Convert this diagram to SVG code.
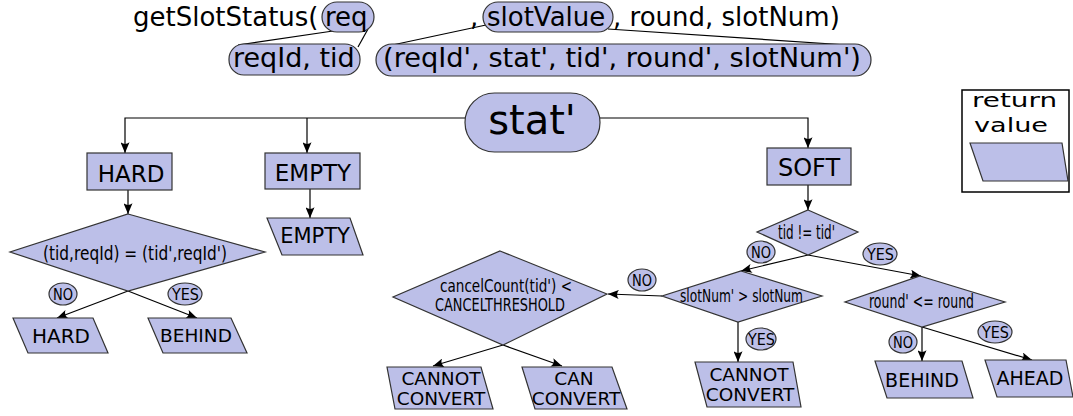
<svg xmlns="http://www.w3.org/2000/svg" width="1073" height="416" viewBox="0 0 1073 416">
  <style>
    .t { font-family: "DejaVu Sans", "Liberation Sans", sans-serif; fill: #000; }
    .c { font-family: "DejaVu Sans", "Liberation Sans", sans-serif; fill: #000; }
    .m { text-anchor: middle; }
    .sh { fill: #bcbfe8; stroke: #333; stroke-width: 1.2; }
    .ln { stroke: #000; stroke-width: 1.2; fill: none; }
    .ar { marker-end: url(#ah); }
  </style>
  <defs>
    <marker id="ah" viewBox="0 0 12 10" refX="12" refY="5" markerWidth="12" markerHeight="9" markerUnits="userSpaceOnUse" orient="auto">
      <path d="M0,0 L12,5 L0,10 Q4,5 0,0 Z" fill="#000"/>
    </marker>
  </defs>

  <!-- signature header -->
  <g id="signature">
    <line class="ln" x1="333" y1="31" x2="238" y2="45"/>
    <line class="ln" x1="368" y1="29" x2="358" y2="47"/>
    <line class="ln" x1="486" y1="25" x2="383" y2="47"/>
    <line class="ln" x1="608" y1="29" x2="862" y2="46"/>
    <rect class="sh" x="322" y="2" width="52" height="30" rx="15"/>
    <rect class="sh" x="483" y="2" width="130" height="30" rx="15"/>
    <rect class="sh" x="229" y="44" width="131" height="31" rx="15"/>
    <rect class="sh" x="376" y="44" width="495" height="32" rx="16"/>
    <text class="t" x="133" y="26" font-size="26">getSlotStatus(</text>
    <text class="t" x="325" y="26" font-size="26">req</text>
    <text class="t" x="470" y="26" font-size="26">,</text>
    <text class="t" x="487" y="26" font-size="26">slotValue</text>
    <text class="t" x="613" y="26" font-size="26">, round, slotNum)</text>
    <text class="t" x="233" y="67" font-size="27">reqId, tid</text>
    <text class="t" x="383" y="67" font-size="27" textLength="478" lengthAdjust="spacingAndGlyphs">(reqId', stat', tid', round', slotNum')</text>
  </g>

  <!-- connectors -->
  <g id="connectors">
    <path class="ln ar" d="M465,118 H125 V153"/>
    <path class="ln ar" d="M307,118 V153"/>
    <path class="ln ar" d="M600,118 H808 V148"/>
    <line class="ln ar" x1="128" y1="190" x2="128" y2="214"/>
    <line class="ln ar" x1="310" y1="189" x2="310" y2="218"/>
    <line class="ln ar" x1="128" y1="291" x2="57" y2="318"/>
    <line class="ln ar" x1="128" y1="291" x2="197" y2="318"/>
    <line class="ln ar" x1="808" y1="185" x2="808" y2="210"/>
    <line class="ln ar" x1="808" y1="255" x2="741" y2="271"/>
    <line class="ln ar" x1="808" y1="255" x2="921" y2="276"/>
    <line class="ln ar" x1="662" y1="296" x2="608" y2="294"/>
    <line class="ln ar" x1="738" y1="322" x2="738" y2="362"/>
    <line class="ln ar" x1="503" y1="345" x2="433" y2="366"/>
    <line class="ln ar" x1="503" y1="345" x2="562" y2="366"/>
    <line class="ln ar" x1="922" y1="327" x2="922" y2="361"/>
    <line class="ln ar" x1="922" y1="327" x2="1032" y2="360"/>
  </g>

  <g id="stat">
    <rect class="sh" x="465" y="93" width="135" height="59" rx="29.5"/>
    <text class="t m" x="532" y="134" font-size="40">stat'</text>
  </g>

  <g id="hard-box">
    <rect class="sh" x="87" y="153" width="85" height="37"/>
    <text class="t m" x="131" y="182" font-size="23">HARD</text>
  </g>
  <g id="empty-box">
    <rect class="sh" x="265" y="153" width="95" height="36"/>
    <text class="t m" x="313" y="181" font-size="23">EMPTY</text>
  </g>
  <g id="soft-box">
    <rect class="sh" x="767" y="148" width="84" height="37"/>
    <text class="t m" x="809" y="176" font-size="24">SOFT</text>
  </g>

  <g id="empty-out">
    <polygon class="sh" points="267,218 350,218 363,255 282,255"/>
    <text class="t m" x="315" y="243" font-size="21">EMPTY</text>
  </g>

  <g id="hard-check">
    <polygon class="sh" points="128,214 265,252 128,291 10,252"/>
    <text class="c" x="43" y="260" font-size="20" textLength="184" lengthAdjust="spacingAndGlyphs">(tid,reqId) = (tid',reqId')</text>
  </g>
  <g id="hard-no">
    <ellipse class="sh" cx="63" cy="294" rx="14" ry="11"/>
    <text class="c" x="53" y="300" font-size="16" textLength="20" lengthAdjust="spacingAndGlyphs">NO</text>
  </g>
  <g id="hard-yes">
    <ellipse class="sh" cx="185" cy="294" rx="17" ry="11"/>
    <text class="c" x="172" y="300" font-size="16" textLength="27" lengthAdjust="spacingAndGlyphs">YES</text>
  </g>
  <g id="hard-out">
    <polygon class="sh" points="13,318 93,318 108,353 28,353"/>
    <text class="t m" x="61" y="343" font-size="20">HARD</text>
  </g>
  <g id="behind-out-1">
    <polygon class="sh" points="148,318 231,318 247,353 163,353"/>
    <text class="t m" x="196" y="342" font-size="18.5">BEHIND</text>
  </g>

  <g id="tid-check">
    <polygon class="sh" points="808,210 858,232 808,255 757,232"/>
    <text class="c" x="778" y="239" font-size="19" textLength="57" lengthAdjust="spacingAndGlyphs">tid != tid'</text>
  </g>
  <g id="tid-no">
    <ellipse class="sh" cx="761" cy="252" rx="14" ry="11"/>
    <text class="c" x="751" y="258" font-size="16" textLength="20" lengthAdjust="spacingAndGlyphs">NO</text>
  </g>
  <g id="tid-yes">
    <ellipse class="sh" cx="880" cy="254" rx="17" ry="11"/>
    <text class="c" x="867" y="260" font-size="16" textLength="27" lengthAdjust="spacingAndGlyphs">YES</text>
  </g>

  <g id="slot-check">
    <polygon class="sh" points="741,271 822,296 738,322 662,296"/>
    <text class="c" x="680" y="302" font-size="18.5" textLength="123" lengthAdjust="spacingAndGlyphs">slotNum' &gt; slotNum</text>
  </g>
  <g id="slot-no">
    <ellipse class="sh" cx="642" cy="280" rx="14" ry="11"/>
    <text class="c" x="632" y="286" font-size="16" textLength="20" lengthAdjust="spacingAndGlyphs">NO</text>
  </g>
  <g id="slot-yes">
    <ellipse class="sh" cx="761" cy="339" rx="15" ry="11"/>
    <text class="c" x="748" y="345" font-size="16" textLength="27" lengthAdjust="spacingAndGlyphs">YES</text>
  </g>
  <g id="cannot-convert-2">
    <polygon class="sh" points="695,362 793,362 801,407 707,407"/>
    <text class="t m" x="749" y="381" font-size="18.5">CANNOT</text>
    <text class="t m" x="750" y="401" font-size="18.5">CONVERT</text>
  </g>

  <g id="cancel-check">
    <polygon class="sh" points="500,251 607,294 503,345 393,297"/>
    <text class="c" x="440" y="292" font-size="18.5" textLength="132" lengthAdjust="spacingAndGlyphs">cancelCount(tid') &lt;</text>
    <text class="c" x="435" y="311" font-size="17.5" textLength="130" lengthAdjust="spacingAndGlyphs">CANCELTHRESHOLD</text>
  </g>
  <g id="cannot-convert-1">
    <polygon class="sh" points="387,367 481,367 493,409 395,409"/>
    <text class="t m" x="441" y="385" font-size="18.5">CANNOT</text>
    <text class="t m" x="441" y="405" font-size="18.5">CONVERT</text>
  </g>
  <g id="can-convert">
    <polygon class="sh" points="522,367 612,367 627,409 535,409"/>
    <text class="t m" x="574" y="385" font-size="18.5">CAN</text>
    <text class="t m" x="576" y="405" font-size="18.5">CONVERT</text>
  </g>

  <g id="round-check">
    <polygon class="sh" points="920,276 1005,302 922,327 845,302"/>
    <text class="c" x="869" y="308" font-size="19" textLength="105" lengthAdjust="spacingAndGlyphs">round' &lt;= round</text>
  </g>
  <g id="round-no">
    <ellipse class="sh" cx="903" cy="342" rx="14" ry="11"/>
    <text class="c" x="893" y="348" font-size="16" textLength="20" lengthAdjust="spacingAndGlyphs">NO</text>
  </g>
  <g id="round-yes">
    <ellipse class="sh" cx="995" cy="332" rx="17" ry="11"/>
    <text class="c" x="982" y="338" font-size="16" textLength="27" lengthAdjust="spacingAndGlyphs">YES</text>
  </g>
  <g id="behind-out-2">
    <polygon class="sh" points="875,361 962,361 973,398 887,398"/>
    <text class="t m" x="922" y="387" font-size="19">BEHIND</text>
  </g>
  <g id="ahead-out">
    <polygon class="sh" points="985,360 1066,360 1073,397 997,397"/>
    <text class="t m" x="1030" y="385" font-size="19">AHEAD</text>
  </g>

  <g id="legend">
    <rect x="962" y="90" width="107" height="102" fill="#fff" stroke="#000" stroke-width="1.5"/>
    <text class="t" x="972" y="107" font-size="20" textLength="85" lengthAdjust="spacingAndGlyphs">return</text>
    <text class="t" x="974" y="132" font-size="20" textLength="74" lengthAdjust="spacingAndGlyphs">value</text>
    <polygon class="sh" points="970,143 1062,143 1068,181 983,181"/>
  </g>
</svg>
